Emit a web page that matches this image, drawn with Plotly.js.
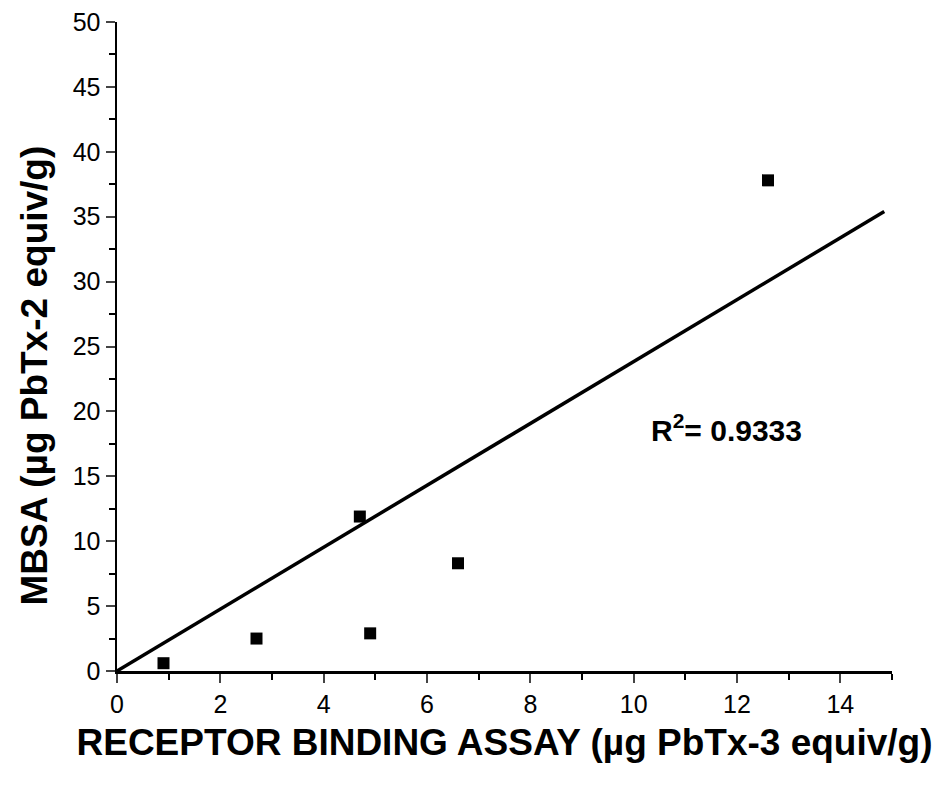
<!DOCTYPE html>
<html><head><meta charset="utf-8">
<script src="https://cdn.plot.ly/plotly-3.0.1.min.js"></script>
<style>body{margin:0;background:#fff}#c{width:941px;height:790px}</style>
</head><body><div id="c"></div>
<script>
const rba = [0.9, 2.7, 4.7, 4.9, 6.6, 12.6];
const mbsa = [0.6, 2.5, 11.9, 2.9, 8.3, 37.8];
const fitX = [0, 14.85];
const fitY = [0, 35.4];
const xTicks = [0, 2, 4, 6, 8, 10, 12, 14];
const yTicks = [0, 5, 10, 15, 20, 25, 30, 35, 40, 45, 50];
const rLabel = 'R<sup>2</sup>= 0.9333';
const xTitle = 'RECEPTOR BINDING ASSAY (µg PbTx-3 equiv/g)';
const yTitle = 'MBSA (µg PbTx-2 equiv/g)';

const font = 'Liberation Sans, Arial, sans-serif';
Plotly.newPlot('c', [
  {x: fitX, y: fitY, mode: 'lines', line: {color: '#000', width: 3.5}, hoverinfo: 'skip'},
  {x: rba, y: mbsa, mode: 'markers', marker: {symbol: 'square', size: 12, color: '#000'}}
], {
  width: 941, height: 790, showlegend: false,
  paper_bgcolor: '#fff', plot_bgcolor: '#fff',
  margin: {l: 117, r: 49, t: 22, b: 119},
  font: {family: font, color: '#000'},
  xaxis: {
    range: [0, 15], tickvals: xTicks, ticks: 'outside', ticklen: 9, tickwidth: 2,
    showline: true, linewidth: 2.5, linecolor: '#000', showgrid: false, zeroline: false,
    tickfont: {size: 25, family: font},
    minor: {dtick: 1, tick0: 0, ticks: 'outside', ticklen: 6, tickwidth: 2, tickcolor: '#000', showgrid: false},
    title: {text: '<b>' + xTitle + '</b>', font: {size: 37, family: font}, standoff: 13}
  },
  yaxis: {
    range: [0, 50], tickvals: yTicks, ticks: 'outside', ticklen: 9, tickwidth: 2,
    showline: true, linewidth: 2.5, linecolor: '#000', showgrid: false, zeroline: false,
    tickfont: {size: 25, family: font},
    minor: {dtick: 2.5, tick0: 0, ticks: 'outside', ticklen: 6, tickwidth: 2, tickcolor: '#000', showgrid: false}
  },
  annotations: [{
    x: 11.8, y: 18.7, xref: 'x', yref: 'y', text: '<b>' + rLabel + '</b>', showarrow: false,
    font: {size: 30, family: font, color: '#000'}
  }, {
    x: -0.106, y: 0.455, xref: 'paper', yref: 'paper', xanchor: 'center', yanchor: 'middle',
    textangle: -90, text: '<b>' + yTitle + '</b>', showarrow: false,
    font: {size: 37, family: font, color: '#000'}
  }]
}, {staticPlot: true});
</script></body></html>
